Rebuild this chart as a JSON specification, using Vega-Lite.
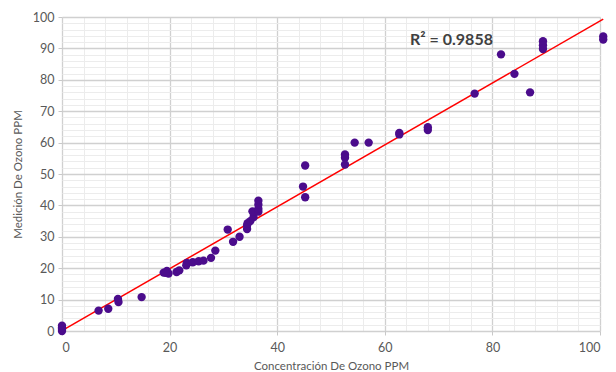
{
  "$schema": "https://vega.github.io/schema/vega-lite/v6.json",
  "width": 538,
  "height": 314,
  "autosize": {"type": "none"},
  "padding": {"left": 62, "top": 17, "right": 16, "bottom": 41},
  "background": "white",
  "config": {
    "view": {"stroke": null},
    "font": "Lato",
    "axis": {
      "labelFont": "Lato", "titleFont": "Lato",
      "labelColor": "#595959", "titleColor": "#595959",
      "labelFontSize": 12.5, "titleFontSize": 11.5, "titleFontWeight": "normal",
      "domain": false, "tickColor": "#c8c8c8", "tickSize": 4, "labelOverlap": false
    }
  },
  "datasets": {
    "pts": [
      {"c": 0, "m": 0}, {"c": 0, "m": 0.6}, {"c": 0, "m": 1.0}, {"c": 0, "m": 1.7},
      {"c": 6.8, "m": 6.5}, {"c": 8.6, "m": 7.1},
      {"c": 10.4, "m": 10.2}, {"c": 10.5, "m": 9.2},
      {"c": 14.8, "m": 10.8},
      {"c": 18.9, "m": 18.6}, {"c": 19.5, "m": 19.1}, {"c": 19.8, "m": 18.3}, {"c": 19.3, "m": 18.5},
      {"c": 21.3, "m": 18.8}, {"c": 21.8, "m": 19.3},
      {"c": 23.1, "m": 20.9}, {"c": 23.2, "m": 21.7},
      {"c": 24.3, "m": 21.9}, {"c": 25.4, "m": 22.2}, {"c": 26.3, "m": 22.4},
      {"c": 27.7, "m": 23.3}, {"c": 28.5, "m": 25.6},
      {"c": 30.8, "m": 32.3}, {"c": 31.8, "m": 28.4}, {"c": 33.0, "m": 30.0},
      {"c": 34.4, "m": 32.5}, {"c": 34.4, "m": 33.6}, {"c": 34.5, "m": 34.3}, {"c": 35.0, "m": 35.0}, {"c": 35.6, "m": 36.2},
      {"c": 35.4, "m": 38.1},
      {"c": 36.5, "m": 38.0}, {"c": 36.5, "m": 38.9}, {"c": 36.5, "m": 40.2}, {"c": 36.5, "m": 41.5},
      {"c": 44.8, "m": 46.0}, {"c": 45.2, "m": 42.6}, {"c": 45.2, "m": 52.7},
      {"c": 52.6, "m": 56.2}, {"c": 52.6, "m": 55.2}, {"c": 52.6, "m": 53.0},
      {"c": 54.4, "m": 60.0}, {"c": 57.0, "m": 60.0},
      {"c": 62.7, "m": 63.1}, {"c": 62.7, "m": 62.6},
      {"c": 68.0, "m": 64.9}, {"c": 68.0, "m": 64.0},
      {"c": 76.7, "m": 75.6}, {"c": 81.6, "m": 88.1}, {"c": 84.1, "m": 81.9}, {"c": 87.0, "m": 76.0},
      {"c": 89.4, "m": 92.3}, {"c": 89.4, "m": 91.0}, {"c": 89.4, "m": 89.8},
      {"c": 100.6, "m": 93.8}, {"c": 100.6, "m": 92.8}
    ],
    "trend": [{"c": 0, "m": 0.1}, {"c": 100.6, "m": 99.3}],
    "note": [{"c": 72.4, "m": 92.6, "t": "R² = 0.9858"}]
  },
  "encoding": {
    "x": {
      "field": "c", "type": "quantitative",
      "scale": {"domain": [0, 100], "nice": false, "zero": false},
      "title": "Concentración De Ozono PPM",
      "axis": {
        "values": [0,4,8,12,16,20,24,28,32,36,40,44,48,52,56,60,64,68,72,76,80,84,88,92,96,100],
        "labelExpr": "datum.value % 20 === 0 ? datum.label : ''",
        "labelOverlap": false,
        "gridColor": {"condition": {"test": "datum.value % 20 === 0", "value": "#d0d0d0"}, "value": "#ececec"},
        "gridWidth": {"condition": {"test": "datum.value % 20 === 0", "value": 1.3}, "value": 1},
        "tickOpacity": {"condition": {"test": "datum.value % 20 === 0", "value": 1}, "value": 0},
        "labelPadding": 6, "titlePadding": 7
      }
    },
    "y": {
      "field": "m", "type": "quantitative",
      "scale": {"domain": [0, 100], "nice": false, "zero": false},
      "title": "Medición De Ozono PPM",
      "axis": {
        "values": [0,2,4,6,8,10,12,14,16,18,20,22,24,26,28,30,32,34,36,38,40,42,44,46,48,50,52,54,56,58,60,62,64,66,68,70,72,74,76,78,80,82,84,86,88,90,92,94,96,98,100],
        "labelExpr": "datum.value % 10 === 0 ? datum.label : ''",
        "labelOverlap": false,
        "gridColor": {"condition": {"test": "datum.value % 10 === 0", "value": "#d0d0d0"}, "value": "#ececec"},
        "gridWidth": {"condition": {"test": "datum.value % 10 === 0", "value": 1.3}, "value": 1},
        "tickOpacity": {"condition": {"test": "datum.value % 10 === 0", "value": 1}, "value": 0},
        "labelPadding": 4, "titlePadding": 9
      }
    }
  },
  "layer": [
    {
      "data": {"name": "trend"},
      "mark": {"type": "line", "color": "#ff0000", "strokeWidth": 1.5, "clip": false}
    },
    {
      "data": {"name": "pts"},
      "mark": {"type": "circle", "color": "#4b0c8c", "opacity": 1, "size": 70, "clip": false}
    },
    {
      "data": {"name": "note"},
      "mark": {"type": "text", "font": "Lato", "fontSize": 16, "fontWeight": "bold", "color": "#404040", "align": "center", "baseline": "middle"},
      "encoding": {"text": {"field": "t"}}
    }
  ]
}
